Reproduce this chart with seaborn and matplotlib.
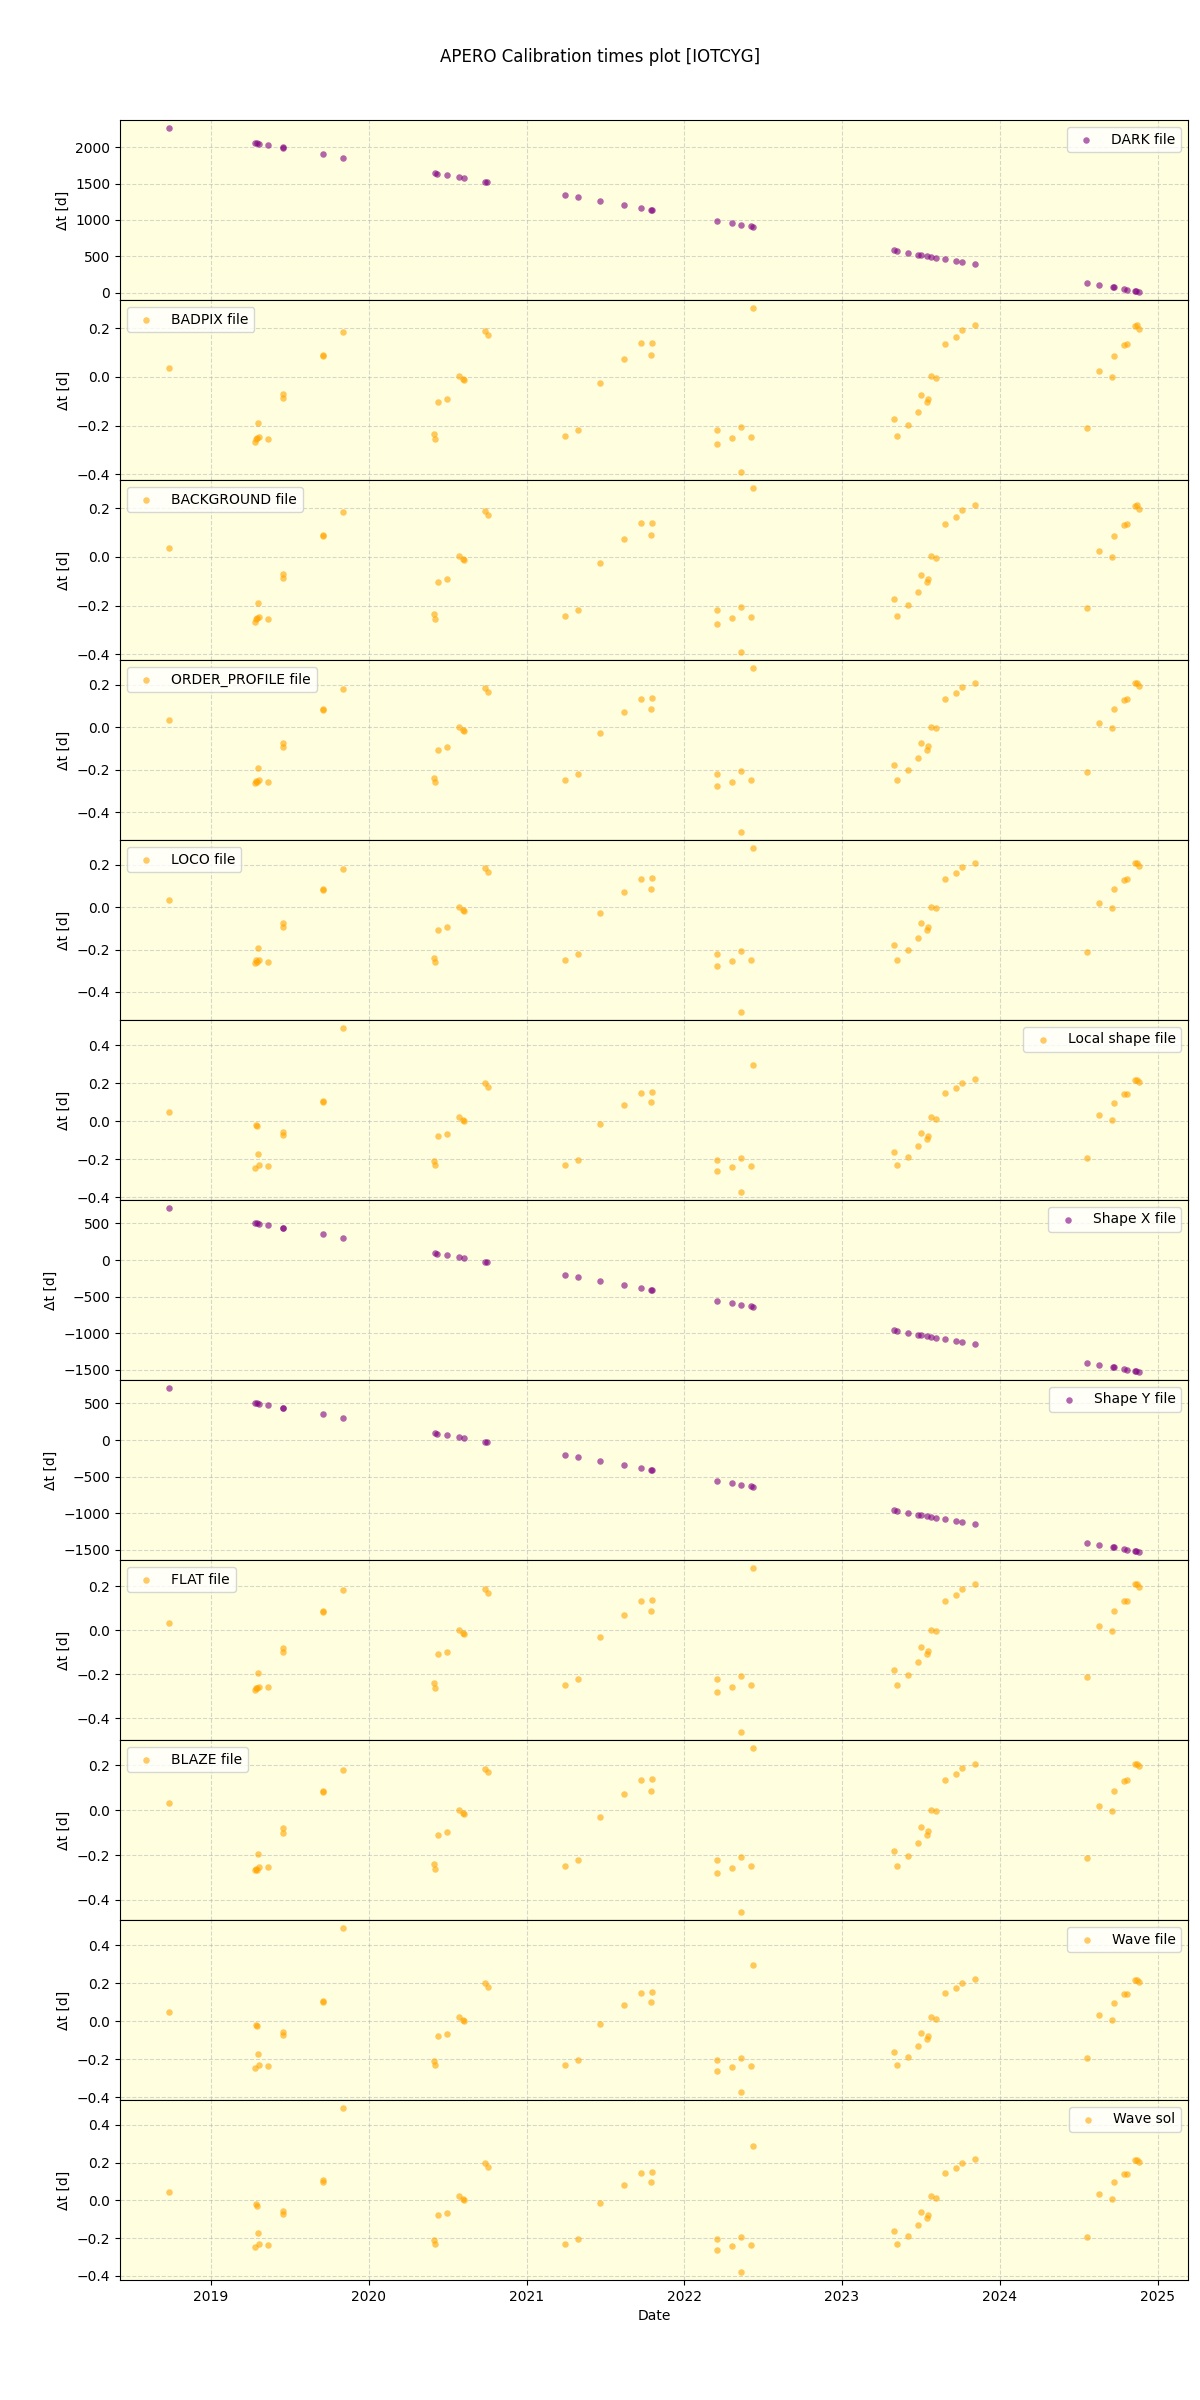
import pandas as pd
import matplotlib
matplotlib.use("Agg")
import matplotlib.pyplot as plt
import seaborn as sns

# Dates used by the DARK / Shape X / Shape Y panels
shape_dates = [
    "2018-09-25", "2019-04-14", "2019-04-17", "2019-04-22", "2019-05-14", "2019-06-16", "2019-06-17",
    "2019-09-18", "2019-11-02", "2020-06-02", "2020-06-08", "2020-06-30", "2020-07-29", "2020-08-08",
    "2020-09-26", "2020-10-02", "2021-03-31", "2021-04-30", "2021-06-19", "2021-08-14", "2021-09-22",
    "2021-10-15", "2021-10-18", "2022-03-18", "2022-04-21", "2022-05-12", "2022-06-04", "2022-06-10",
    "2023-05-01", "2023-05-08", "2023-06-03", "2023-06-27", "2023-07-04", "2023-07-17", "2023-07-26",
    "2023-08-08", "2023-08-27", "2023-09-22", "2023-10-06", "2023-11-05", "2024-07-21", "2024-08-19",
    "2024-09-19", "2024-09-22", "2024-10-15", "2024-10-22", "2024-11-09", "2024-11-13", "2024-11-20",
]
dark_dt = [2260, 2055, 2055, 2041, 2028, 2004, 1986, 1904, 1850, 1644, 1630, 1616, 1589, 1575,
           1521, 1521, 1343, 1315, 1260, 1206, 1165, 1137, 1137, 986, 959, 932, 918, 904,
           589, 575, 548, 521, 521, 507, 493, 480, 466, 438, 425, 397, 137, 110,
           82, 82, 59, 41, 27, 27, 14]
shapex_dt = [709, 504, 504, 495, 477, 444, 436, 354, 300, 95, 82, 68, 41, 27,
             -27, -27, -204, -232, -286, -341, -382, -409, -409, -559, -586, -613, -627, -641,
             -954, -968, -995, -1022, -1022, -1036, -1050, -1063, -1077, -1104, -1118, -1145, -1404, -1431,
             -1458, -1458, -1482, -1499, -1513, -1513, -1527]
shapey_dt = [709, 504, 500, 492, 477, 444, 436, 354, 300, 95, 80, 68, 41, 27,
             -27, -30, -204, -232, -286, -341, -382, -409, -412, -559, -586, -613, -627, -641,
             -954, -968, -995, -1022, -1025, -1036, -1050, -1063, -1077, -1104, -1118, -1145, -1404, -1431,
             -1458, -1460, -1482, -1499, -1513, -1515, -1527]

# Dates used by the other calibration panels
cal_dates = [
    "2018-09-25", "2019-04-14", "2019-04-16", "2019-04-17", "2019-04-21", "2019-04-23", "2019-05-14",
    "2019-06-16", "2019-06-18", "2019-09-18", "2019-09-18", "2019-11-02", "2020-06-01", "2020-06-04",
    "2020-06-09", "2020-06-30", "2020-07-29", "2020-08-07", "2020-08-08", "2020-09-26", "2020-10-03",
    "2021-03-31", "2021-04-30", "2021-06-19", "2021-08-14", "2021-09-22", "2021-10-16", "2021-10-19",
    "2022-03-17", "2022-03-18", "2022-04-21", "2022-05-12", "2022-05-12", "2022-06-04", "2022-06-10",
    "2023-05-01", "2023-05-08", "2023-06-03", "2023-06-27", "2023-07-04", "2023-07-16", "2023-07-19",
    "2023-07-26", "2023-08-08", "2023-08-27", "2023-09-22", "2023-10-06", "2023-11-05", "2024-07-21",
    "2024-08-19", "2024-09-18", "2024-09-22", "2024-10-15", "2024-10-22", "2024-11-09", "2024-11-14",
    "2024-11-20",
]
badpix_dt = [0.037, -0.267, -0.257, -0.250, -0.189, -0.245, -0.255, -0.086, -0.070, 0.090, 0.086, 0.185,
             -0.233, -0.255, -0.103, -0.090, 0.004, -0.008, -0.012, 0.190, 0.172, -0.242, -0.218, -0.025,
             0.074, 0.140, 0.090, 0.140, -0.275, -0.218, -0.251, -0.205, -0.390, -0.246, 0.283, -0.172,
             -0.242, -0.197, -0.144, -0.074, -0.104, -0.090, 0.004, -0.004, 0.136, 0.164, 0.193, 0.214,
             -0.209, 0.025, 0.000, 0.086, 0.131, 0.137, 0.209, 0.214, 0.197]
background_dt = [0.037, -0.267, -0.257, -0.250, -0.189, -0.245, -0.255, -0.086, -0.070, 0.090, 0.086, 0.185,
                 -0.233, -0.255, -0.103, -0.090, 0.004, -0.008, -0.012, 0.190, 0.172, -0.242, -0.218, -0.025,
                 0.074, 0.140, 0.090, 0.140, -0.275, -0.218, -0.251, -0.205, -0.390, -0.246, 0.283, -0.172,
                 -0.242, -0.197, -0.144, -0.074, -0.104, -0.090, 0.004, -0.004, 0.136, 0.164, 0.193, 0.214,
                 -0.209, 0.025, 0.000, 0.086, 0.131, 0.137, 0.209, 0.214, 0.197]
orderp_dt = [0.033, -0.264, -0.255, -0.260, -0.193, -0.250, -0.259, -0.094, -0.075, 0.085, 0.082, 0.179,
             -0.239, -0.259, -0.108, -0.094, 0.000, -0.013, -0.017, 0.184, 0.165, -0.250, -0.221, -0.028,
             0.071, 0.132, 0.085, 0.136, -0.278, -0.221, -0.256, -0.206, -0.493, -0.250, 0.278, -0.179,
             -0.250, -0.202, -0.146, -0.074, -0.108, -0.091, 0.000, -0.005, 0.132, 0.160, 0.188, 0.207,
             -0.212, 0.019, -0.005, 0.085, 0.128, 0.132, 0.207, 0.207, 0.193]
loco_dt = [0.033, -0.264, -0.251, -0.260, -0.193, -0.251, -0.259, -0.094, -0.075, 0.085, 0.082, 0.179,
           -0.240, -0.259, -0.108, -0.094, 0.000, -0.013, -0.017, 0.184, 0.165, -0.250, -0.221, -0.028,
           0.071, 0.132, 0.085, 0.136, -0.278, -0.221, -0.256, -0.206, -0.494, -0.250, 0.278, -0.179,
           -0.250, -0.202, -0.146, -0.075, -0.108, -0.094, 0.000, -0.005, 0.132, 0.160, 0.188, 0.207,
           -0.212, 0.019, -0.005, 0.085, 0.128, 0.132, 0.207, 0.207, 0.193]
flat_dt = [0.032, -0.271, -0.262, -0.265, -0.195, -0.259, -0.259, -0.100, -0.080, 0.085, 0.082, 0.180,
           -0.240, -0.262, -0.110, -0.098, 0.000, -0.013, -0.017, 0.185, 0.168, -0.250, -0.224, -0.030,
           0.070, 0.133, 0.085, 0.137, -0.280, -0.222, -0.259, -0.208, -0.462, -0.250, 0.281, -0.180,
           -0.250, -0.205, -0.147, -0.075, -0.110, -0.095, 0.000, -0.005, 0.133, 0.160, 0.188, 0.207,
           -0.213, 0.019, -0.005, 0.085, 0.130, 0.133, 0.207, 0.207, 0.195]
blaze_dt = [0.031, -0.267, -0.262, -0.265, -0.195, -0.252, -0.252, -0.100, -0.080, 0.085, 0.082, 0.180,
            -0.240, -0.262, -0.110, -0.098, 0.000, -0.013, -0.017, 0.185, 0.168, -0.250, -0.224, -0.030,
            0.070, 0.133, 0.085, 0.137, -0.280, -0.222, -0.259, -0.208, -0.453, -0.250, 0.276, -0.180,
            -0.250, -0.205, -0.147, -0.075, -0.110, -0.095, 0.000, -0.005, 0.133, 0.160, 0.188, 0.207,
            -0.213, 0.019, -0.005, 0.085, 0.130, 0.133, 0.207, 0.207, 0.195]
localshape_dt = [0.047, -0.247, -0.021, -0.025, -0.174, -0.230, -0.237, -0.074, -0.056, 0.107, 0.100, 0.489,
                 -0.210, -0.232, -0.079, -0.068, 0.021, 0.007, 0.000, 0.198, 0.177, -0.232, -0.205, -0.016,
                 0.084, 0.147, 0.100, 0.153, -0.263, -0.205, -0.242, -0.195, -0.372, -0.237, 0.295, -0.163,
                 -0.232, -0.189, -0.132, -0.063, -0.095, -0.079, 0.021, 0.011, 0.147, 0.174, 0.200, 0.221,
                 -0.195, 0.032, 0.005, 0.095, 0.142, 0.142, 0.216, 0.216, 0.205]
wavefile_dt = [0.047, -0.247, -0.021, -0.025, -0.174, -0.230, -0.237, -0.074, -0.056, 0.107, 0.100, 0.489,
               -0.210, -0.232, -0.079, -0.068, 0.021, 0.007, 0.000, 0.198, 0.177, -0.232, -0.205, -0.016,
               0.084, 0.147, 0.100, 0.153, -0.263, -0.205, -0.242, -0.195, -0.372, -0.237, 0.295, -0.163,
               -0.232, -0.189, -0.132, -0.063, -0.095, -0.079, 0.021, 0.011, 0.147, 0.174, 0.200, 0.221,
               -0.195, 0.032, 0.005, 0.095, 0.142, 0.142, 0.216, 0.216, 0.205]
wavesol_dt = [0.047, -0.247, -0.021, -0.028, -0.174, -0.232, -0.237, -0.074, -0.056, 0.107, 0.100, 0.489,
              -0.210, -0.232, -0.079, -0.068, 0.021, 0.007, 0.000, 0.198, 0.177, -0.232, -0.205, -0.016,
              0.084, 0.147, 0.100, 0.153, -0.263, -0.205, -0.242, -0.195, -0.379, -0.237, 0.289, -0.163,
              -0.232, -0.189, -0.132, -0.063, -0.095, -0.079, 0.021, 0.011, 0.147, 0.174, 0.200, 0.221,
              -0.195, 0.032, 0.005, 0.095, 0.142, 0.142, 0.216, 0.216, 0.205]

# (label, dates, values, colour, legend position)
panels = [
    ("DARK file", shape_dates, dark_dt, "purple", "upper right"),
    ("BADPIX file", cal_dates, badpix_dt, "orange", "upper left"),
    ("BACKGROUND file", cal_dates, background_dt, "orange", "upper left"),
    ("ORDER_PROFILE file", cal_dates, orderp_dt, "orange", "upper left"),
    ("LOCO file", cal_dates, loco_dt, "orange", "upper left"),
    ("Local shape file", cal_dates, localshape_dt, "orange", "upper right"),
    ("Shape X file", shape_dates, shapex_dt, "purple", "upper right"),
    ("Shape Y file", shape_dates, shapey_dt, "purple", "upper right"),
    ("FLAT file", cal_dates, flat_dt, "orange", "upper left"),
    ("BLAZE file", cal_dates, blaze_dt, "orange", "upper left"),
    ("Wave file", cal_dates, wavefile_dt, "orange", "upper right"),
    ("Wave sol", cal_dates, wavesol_dt, "orange", "upper right"),
]

fig, axes = plt.subplots(len(panels), 1, figsize=(12, 24), sharex=True)
fig.subplots_adjust(left=0.1, right=0.99, top=0.95, bottom=0.05, hspace=0)

for ax, (label, dates, values, colour, loc) in zip(axes, panels):
    df = pd.DataFrame({"date": pd.to_datetime(dates), "dt": values})
    ax.set_facecolor("lightyellow")
    sns.scatterplot(data=df, x="date", y="dt", ax=ax, color=colour, alpha=0.6,
                    s=22, linewidth=0, label=label)
    ax.grid(True, linestyle="--", alpha=0.5)
    ax.set_axisbelow(True)
    ax.set_ylabel("Δt [d]")
    ax.set_xlabel("")
    ax.legend(loc=loc)

axes[-1].set_xlabel("Date")
fig.suptitle("APERO Calibration times plot [IOTCYG]")

plt.savefig("out.png", dpi=100)
